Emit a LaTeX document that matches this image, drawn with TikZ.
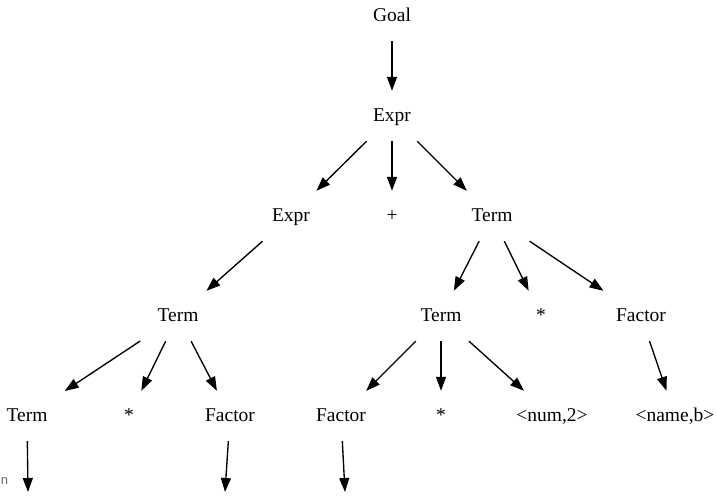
\documentclass[tikz,border=0pt]{standalone}
\usepackage{fontspec}
\setmainfont{Liberation Serif}
\newfontfamily\cutfont{Liberation Sans}
\usetikzlibrary{arrows.meta}
\begin{document}
\begin{tikzpicture}[x=1pt,y=-1pt,
  tok/.style={rectangle, draw=none, minimum width=75pt, minimum height=50pt,
    inner xsep=11pt, inner ysep=0pt, text height=15pt, text depth=4pt,
    font=\fontsize{19.5}{23}\selectfont},
  edge/.style={line width=1.35pt, -{Triangle[length=14pt,width=10pt]}}]
\useasboundingbox (0,0) rectangle (717,495);
\node[tok] (goal) at (392,16) {Goal};
\node[tok] (e1) at (392,116) {Expr};
\node[tok] (e2) at (291,216) {Expr};
\node[tok] (plus) at (392,216) {+};
\node[tok] (t1) at (492,216) {Term};
\node[tok] (t2) at (178,316) {Term};
\node[tok] (t3) at (441,316) {Term};
\node[tok] (st1) at (541,316) {*};
\node[tok] (f1) at (641,316) {Factor};
\node[tok] (t4) at (27,416) {Term};
\node[tok] (st2) at (129,416) {*};
\node[tok] (f2) at (230,416) {Factor};
\node[tok] (f3) at (341,416) {Factor};
\node[tok] (st3) at (441,416) {*};
\node[tok] (num) at (552,416) {<num,2>};
\node[tok] (nameb) at (675,416) {<name,b>};
\coordinate (c1) at (28,492);
\coordinate (c2) at (225,492);
\coordinate (c3) at (345,492);
\node[anchor=base west, inner sep=0pt, text=black!60, font=\cutfont\fontsize{13}{15}\selectfont] (cut) at (0.8,484) {n};
\draw[edge] (goal) -- (e1);
\draw[edge] (e1) -- (e2);
\draw[edge] (e1) -- (plus);
\draw[edge] (e1) -- (t1);
\draw[edge] (e2) -- (t2);
\draw[edge] (t1) -- (t3);
\draw[edge] (t1) -- (st1);
\draw[edge] (t1) -- (f1);
\draw[edge] (t2) -- (t4);
\draw[edge] (t2) -- (st2);
\draw[edge] (t2) -- (f2);
\draw[edge] (t3) -- (f3);
\draw[edge] (t3) -- (st3);
\draw[edge] (t3) -- (num);
\draw[edge] (f1) -- (nameb);
\draw[edge] (t4) -- (c1);
\draw[edge] (f2) -- (c2);
\draw[edge] (f3) -- (c3);
\end{tikzpicture}
\end{document}
